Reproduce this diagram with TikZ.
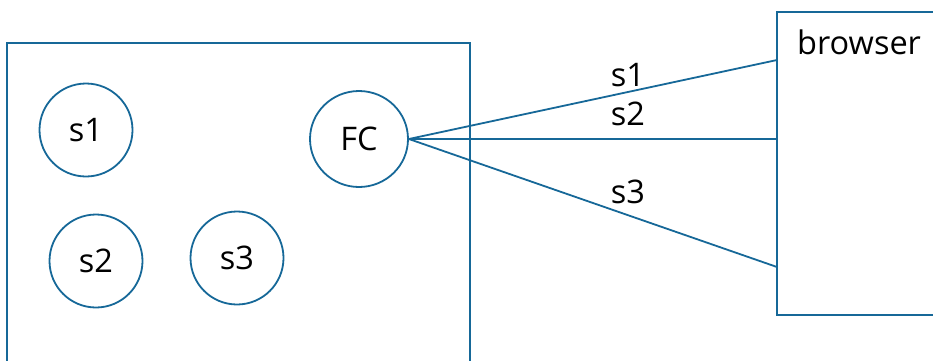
\documentclass[tikz,border=0pt]{standalone}
\usepackage{fontspec}
\usetikzlibrary{shapes.geometric}
\setmainfont{Open Sans}
\definecolor{edge}{RGB}{22,104,152}
\begin{document}
\begin{tikzpicture}[x=1pt,y=-1pt,
  every node/.style={font=\fontsize{32.5}{36}\selectfont},
  frame/.style={draw=edge,line width=1.8pt},
  svc/.style={draw=edge,line width=1.8pt,circle,minimum size=93pt,inner sep=0pt},
  link/.style={draw=edge,line width=1.8pt}]
\useasboundingbox (0,0) rectangle (933,360);
% server box (runs past the lower edge) and browser box (runs past the right edge)
\draw[frame] (7,370) -- (7,43) -- (470,43) -- (470,370);
\draw[frame] (945,12) -- (777,12) -- (777,315) -- (945,315);
\node[anchor=base west,inner sep=0pt] (br) at (797,54) {browser};
% services inside the server
\node[svc] (s1) at (86,130) {s1};
\node[svc] (s2) at (96,261) {s2};
\node[svc] (s3) at (237,258) {s3};
\node[svc,ellipse,minimum width=98pt,minimum height=96pt] (fc) at (359,139) {FC};
% connections from FC to the browser
\coordinate (b1) at (777,60);
\coordinate (b2) at (777,139);
\coordinate (b3) at (777,267);
\draw[link] (fc.east) -- (b1);
\draw[link] (fc.east) -- (b2);
\draw[link] (fc.east) -- (b3);
\node (l1) at (628,75) {s1};
\node (l2) at (628,114) {s2};
\node (l3) at (628,192) {s3};
\end{tikzpicture}
\end{document}
